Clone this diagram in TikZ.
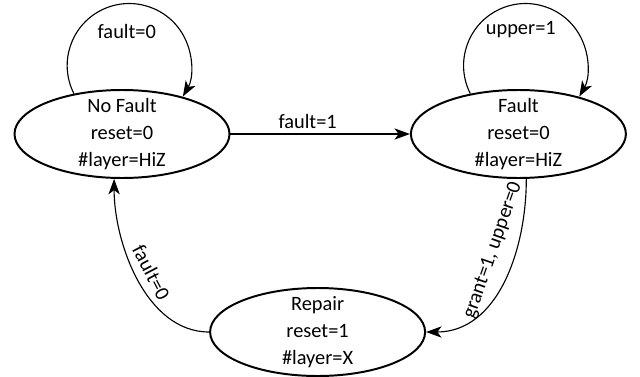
\documentclass[tikz,border=0pt]{standalone}
\usepackage{fontspec}
\setmainfont{Carlito}
\usetikzlibrary{arrows.meta,calc,shapes.geometric}

\tikzset{
  fsm/.style={ellipse,draw,line width=1.4pt,minimum width=5.375cm,minimum height=2.2cm,
    inner xsep=0pt,inner ysep=-8pt,align=center},
  trans/.style={line width=0.8pt,-{Stealth[length=11pt,width=8pt,inset=3pt]}},
  selfloop/.style={to path={arc[start angle=207,end angle=-30,radius=1.55cm]}},
}

\begin{document}
\begin{tikzpicture}[font=\fontsize{14.5}{19}\selectfont]
\useasboundingbox (0,0) rectangle (16,9.4);

\node[fsm] (s0) at (3.05,6.05) {No Fault\\reset=0\\\#layer=HiZ};
\node[fsm] (s1) at (12.96,6.05) {Fault\\reset=0\\\#layer=HiZ};
\node[fsm] (s2) at (7.94,1.1) {Repair\\reset=1\\\#layer=X};

\node (l00) at ($(s0)+(0.12,2.57)$) {fault=0};
\node (l11) at ($(s1)+(0.06,2.6)$) {upper=1};

\path[trans] (s0) edge node[above,pos=0.43] (l01) {fault=1} (s1)
  (s0.140) edge[selfloop] (s0.32)
  (s1.140) edge[selfloop] (s1.32)
  (s1.280) edge[out=-90,in=0] node[above=6pt,sloped,pos=0.37] (l12) {grant=1, upper=0} (s2.east)
  (s2.west) edge[out=180,in=-90,looseness=0.9] node[above=2pt,sloped,pos=0.5] (l20) {fault=0} (s0.260);

\end{tikzpicture}
\end{document}
